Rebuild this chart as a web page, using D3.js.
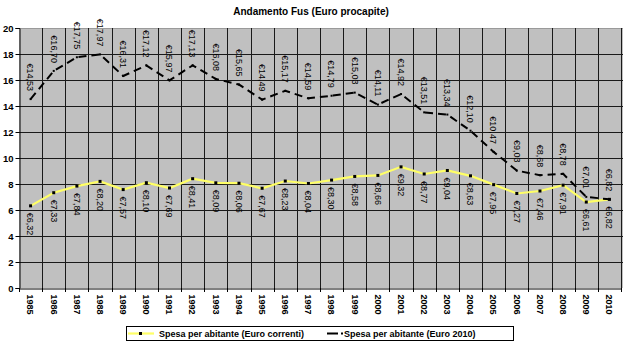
<!DOCTYPE html>
<html><head><meta charset="utf-8">
<script src="https://cdn.jsdelivr.net/npm/d3@7"></script>
<style>body{margin:0;background:#fff;} svg{display:block;font-family:"Liberation Sans",Arial,sans-serif;}</style>
</head><body>
<svg id="c" width="623" height="342"></svg>
<script>
const years = ["1985","1986","1987","1988","1989","1990","1991","1992","1993","1994","1995","1996","1997","1998","1999","2000","2001","2002","2003","2004","2005","2006","2007","2008","2009","2010"];
const correnti = [6.32,7.33,7.84,8.20,7.57,8.10,7.69,8.41,8.09,8.06,7.67,8.23,8.04,8.30,8.58,8.66,9.32,8.77,9.04,8.63,7.95,7.27,7.46,7.91,6.61,6.82];
const euro2010 = [14.53,16.70,17.75,17.97,16.31,17.12,15.97,17.13,16.08,15.65,14.49,15.17,14.59,14.79,15.03,14.11,14.92,13.51,13.34,12.10,10.47,9.03,8.68,8.78,7.01,6.82];
const yTicks = [0,2,4,6,8,10,12,14,16,18,20];
const title = "Andamento Fus (Euro procapite)";
const legendLabels = ["Spesa per abitante (Euro correnti)","Spesa per abitante (Euro 2010)"];

const svg = d3.select("#c");
const L=19, R=621, T=28, B=288;
const x = d3.scaleBand().domain(years).range([L,R]);
const y = d3.scaleLinear().domain([0,20]).range([B,T]);
const cx = d => x(d)+x.bandwidth()/2;
const fmt = v => "€"+v.toFixed(2).replace(".",",");

svg.append("text").attr("x",311).attr("y",15).attr("text-anchor","middle")
  .attr("font-size",10).attr("font-weight","bold").text(title);

svg.append("rect").attr("x",L).attr("y",T).attr("width",623-L).attr("height",B-T).attr("fill","#c0c0c0");
svg.append("line").attr("x1",L).attr("x2",623).attr("y1",T+0.5).attr("y2",T+0.5).attr("stroke","#9a9a9a");

// horizontal grid
svg.append("g").selectAll("line").data(yTicks.filter(t=>t>0&&t<20)).join("line")
  .attr("x1",L).attr("x2",623).attr("y1",d=>Math.round(y(d))+0.5).attr("y2",d=>Math.round(y(d))+0.5)
  .attr("stroke","#1a1a1a").attr("stroke-width",1);
// vertical grid
svg.append("g").selectAll("line").data(years.slice(1).concat(["end"])).join("line")
  .attr("x1",(d,i)=>Math.round(x(years[0])+x.bandwidth()*(i+1))+0.5)
  .attr("x2",(d,i)=>Math.round(x(years[0])+x.bandwidth()*(i+1))+0.5)
  .attr("y1",T).attr("y2",B).attr("stroke","#1a1a1a");

// y axis
const ya = svg.append("g").attr("transform",`translate(${L+0.5},0)`)
  .call(d3.axisLeft(y).tickValues(yTicks).tickSize(4).tickPadding(2).tickFormat(d3.format("d")));
ya.select(".domain").attr("stroke","#000");
ya.selectAll(".tick line").attr("stroke","#000");
ya.selectAll("text").attr("font-size",9.5).attr("font-weight","bold").attr("fill","#000")
  .attr("font-family","Liberation Sans, Arial, sans-serif");

// x axis
const xa = svg.append("g").attr("transform",`translate(0,${B+0.5})`)
  .call(d3.axisBottom(x).tickSize(0).tickFormat(d=>d));
xa.select(".domain").attr("stroke","#000");
xa.selectAll("text").attr("font-size",9).attr("font-weight","bold").attr("fill","#000")
  .attr("font-family","Liberation Sans, Arial, sans-serif")
  .attr("transform","rotate(90)").attr("text-anchor","start").attr("dy","0.35em").attr("y",0).attr("x",6);
svg.append("g").selectAll("line").data(d3.range(years.length+1)).join("line")
  .attr("x1",i=>Math.round(L+x.bandwidth()*i)+0.5).attr("x2",i=>Math.round(L+x.bandwidth()*i)+0.5)
  .attr("y1",B).attr("y2",B+4).attr("stroke","#000");

// lines
const line = d3.line().x((d,i)=>cx(years[i])).y(d=>y(d));
svg.append("path").datum(correnti).attr("d",line).attr("fill","none")
  .attr("stroke","#ffff66").attr("stroke-width",2.2);
svg.append("g").selectAll("rect").data(correnti).join("rect")
  .attr("x",(d,i)=>cx(years[i])-1.5).attr("y",d=>y(d)-1.5).attr("width",3).attr("height",3).attr("fill","#000");

svg.append("path").datum(euro2010).attr("d",line).attr("fill","none")
  .attr("stroke","#000").attr("stroke-width",2).attr("stroke-dasharray","8,5");
svg.append("g").selectAll("rect").data(euro2010).join("rect")
  .attr("x",(d,i)=>cx(years[i])-1).attr("y",d=>y(d)-1).attr("width",2).attr("height",2).attr("fill","#000");

// labels
svg.append("g").selectAll("text").data(euro2010).join("text")
  .attr("transform",(d,i)=>`translate(${cx(years[i])},${y(d)-8}) rotate(90)`)
  .attr("text-anchor","end").attr("dy","0.35em").attr("font-size",9).attr("fill","#000").text(fmt);
svg.append("g").selectAll("text").data(correnti).join("text")
  .attr("transform",(d,i)=>`translate(${cx(years[i])},${y(d)+7}) rotate(90)`)
  .attr("text-anchor","start").attr("dy","0.35em").attr("font-size",9).attr("fill","#000").text(fmt);

// legend
const lg = svg.append("g");
lg.append("rect").attr("x",126.5).attr("y",326.5).attr("width",387).attr("height",14).attr("fill","#fff").attr("stroke","#000");
lg.append("line").attr("x1",128).attr("x2",154).attr("y1",333.5).attr("y2",333.5).attr("stroke","#ffff66").attr("stroke-width",2.2);
lg.append("rect").attr("x",139).attr("y",332).attr("width",3).attr("height",3).attr("fill","#000");
lg.append("text").attr("x",159).attr("y",337).attr("font-size",9).attr("font-weight","bold").text(legendLabels[0]);
lg.append("line").attr("x1",327).attr("x2",343).attr("y1",333.5).attr("y2",333.5).attr("stroke","#000").attr("stroke-width",2).attr("stroke-dasharray","11,3");
lg.append("text").attr("x",344).attr("y",337).attr("font-size",9).attr("font-weight","bold").text(legendLabels[1]);
</script>
</body></html>
